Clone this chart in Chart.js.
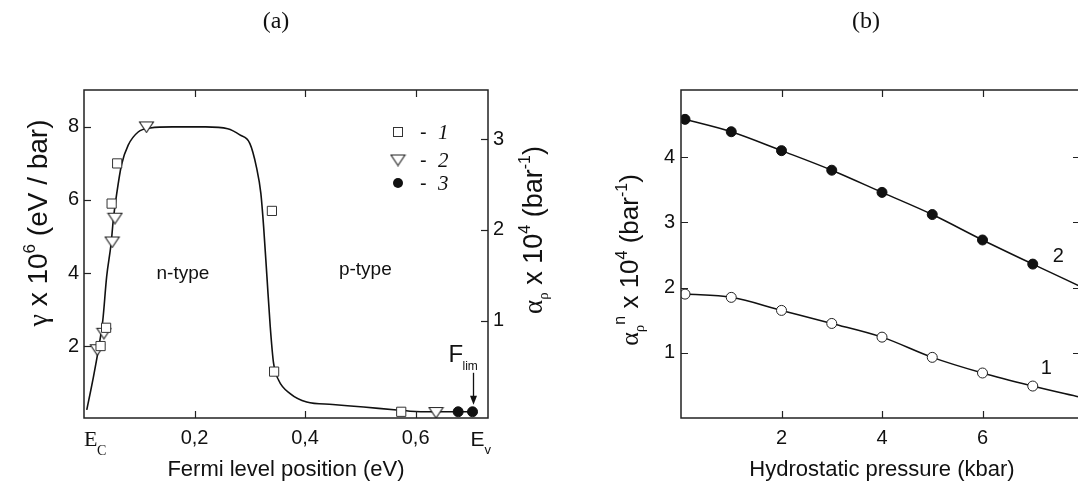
<!DOCTYPE html>
<html>
<head>
<meta charset="utf-8">
<script src="https://cdn.jsdelivr.net/npm/chart.js@4.4.1/dist/chart.umd.min.js"></script>
<style>
html, body { margin: 0; padding: 0; background: #fff; overflow: hidden; width: 1078px; height: 486px; }
canvas { position: absolute; top: 0; }
</style>
</head>
<body>
<canvas id="chartA" width="560" height="486" style="left:0;width:560px;height:486px"></canvas>
<canvas id="chartB" width="540" height="486" style="left:560px;width:540px;height:486px"></canvas>
<script>
// ---- panel (a): gamma vs Fermi level position ----
var fermiTicks = [0.2, 0.4, 0.6];
var gammaTicks = [2, 4, 6, 8];
var alphaTicks = [1, 2, 3];

var set1X = [0.030, 0.040, 0.050, 0.060, 0.340, 0.344, 0.574];
var set1Y = [2.0, 2.5, 5.9, 7.0, 5.7, 1.3, 0.2];
var set2X = [0.024, 0.036, 0.051, 0.056, 0.113, 0.637];
var set2Y = [1.9, 2.35, 4.85, 5.5, 8.0, 0.18];
var set3X = [0.677, 0.703];
var set3Y = [0.2, 0.2];

// fitted curve
var curveX = [0.005, 0.017, 0.026, 0.034, 0.041, 0.049, 0.053, 0.059, 0.068, 0.080, 0.098, 0.120, 0.160, 0.220, 0.260, 0.282, 0.300, 0.312, 0.320, 0.325, 0.331, 0.337, 0.343, 0.352, 0.373, 0.403, 0.450, 0.506, 0.566, 0.600, 0.650, 0.703];
var curveY = [0.25, 1.15, 1.9, 2.7, 3.9, 4.8, 5.45, 6.15, 6.97, 7.5, 7.86, 7.97, 8.0, 8.0, 7.95, 7.78, 7.55, 6.9, 6.18, 5.27, 3.9, 2.53, 1.53, 1.07, 0.70, 0.47, 0.40, 0.33, 0.25, 0.21, 0.2, 0.2];

// ---- panel (b): alpha vs hydrostatic pressure ----
var pressTicks = [2, 4, 6];
var alphaBTicks = [1, 2, 3, 4];
var pressX = [0.08, 1, 2, 3, 4, 5, 6, 7];
var alpha2 = [4.58, 4.39, 4.10, 3.80, 3.46, 3.12, 2.73, 2.36];
var alpha1 = [1.90, 1.85, 1.65, 1.45, 1.24, 0.93, 0.69, 0.49];
var fitPressX = [0.08, 1, 2, 3, 4, 5, 6, 7, 7.94];
var fit2 = [4.58, 4.39, 4.10, 3.80, 3.46, 3.12, 2.73, 2.36, 2.02];
var fit1 = [1.90, 1.85, 1.65, 1.45, 1.24, 0.93, 0.69, 0.49, 0.32];

var SANS = '"Liberation Sans", Arial, sans-serif';
var SERIF = '"Liberation Serif", "Times New Roman", serif';
var INK = '#111';

function pts(xs, ys) {
    return xs.map(function (x, i) { return { x: x, y: ys[i] }; });
}

// open down-pointing triangle used as point style
function makeTriangle() {
    var c = document.createElement('canvas');
    c.width = 17; c.height = 13;
    var g = c.getContext('2d');
    g.fillStyle = '#fff';
    g.strokeStyle = '#222';
    g.lineWidth = 1.1;
    g.beginPath();
    g.moveTo(1.5, 1.5); g.lineTo(15.5, 1.5); g.lineTo(8.5, 12); g.closePath();
    g.fill(); g.stroke();
    return c;
}
var triImg = makeTriangle();

function fontOf(p) {
    return (p.style || '') + ' ' + p.size + 'px ' + (p.family || SANS);
}

// draw text pieces (with sub/superscripts) centred on x, baseline y
function richText(ctx, parts, x, y, angle) {
    ctx.save();
    ctx.translate(x, y);
    ctx.rotate(angle || 0);
    ctx.textAlign = 'left';
    ctx.textBaseline = 'alphabetic';
    ctx.fillStyle = INK;
    var w = 0;
    parts.forEach(function (p) {
        ctx.font = fontOf(p);
        p.w = ctx.measureText(p.t).width;
        w += p.w;
    });
    var cx = -w / 2;
    parts.forEach(function (p) {
        ctx.font = fontOf(p);
        ctx.fillText(p.t, cx, p.dy || 0);
        cx += p.w;
    });
    ctx.restore();
}

function drawFrame(chart, marks) {
    var ctx = chart.ctx, a = chart.chartArea, len = 7;
    ctx.save();
    ctx.strokeStyle = '#222';
    ctx.lineWidth = 1.5;
    ctx.strokeRect(a.left, a.top, a.right - a.left, a.bottom - a.top);
    ctx.lineWidth = 1.2;
    marks.forEach(function (m) {
        var s = chart.scales[m.id];
        s.ticks.forEach(function (t) {
            var p = Math.round(s.getPixelForValue(t.value)) + 0.5;
            ctx.beginPath();
            m.sides.forEach(function (side) {
                if (side === 'bottom') { ctx.moveTo(p, a.bottom); ctx.lineTo(p, a.bottom - len); }
                if (side === 'top') { ctx.moveTo(p, a.top); ctx.lineTo(p, a.top + len); }
                if (side === 'left') { ctx.moveTo(a.left, p); ctx.lineTo(a.left + len, p); }
                if (side === 'right') { ctx.moveTo(a.right, p); ctx.lineTo(a.right - len, p); }
            });
            ctx.stroke();
        });
    });
    ctx.restore();
}

function fixedTicks(list) {
    return function (scale) {
        scale.ticks = list.map(function (v) { return { value: v }; });
    };
}

function tickFont() {
    return { family: SANS, size: 20 };
}

// ---------- chart (a) ----------
var plugA = {
    id: 'panelA',
    afterDraw: function (chart) {
        var ctx = chart.ctx, a = chart.chartArea;
        var xs = chart.scales.x, ys = chart.scales.y;
        drawFrame(chart, [
            { id: 'x', sides: ['bottom', 'top'] },
            { id: 'y', sides: ['left'] },
            { id: 'y2', sides: ['right'] }
        ]);

        // band edge labels
        ctx.save();
        ctx.fillStyle = INK;
        ctx.textBaseline = 'alphabetic';
        ctx.textAlign = 'left';
        ctx.font = '22px ' + SERIF;
        var ec = xs.getPixelForValue(0);
        ctx.fillText('E', ec, 446);
        ctx.font = '14px ' + SERIF;
        ctx.fillText('C', ec + 13, 455);
        var ev = xs.getPixelForValue(0.714);
        ctx.font = '21px ' + SANS;
        ctx.fillText('E', ev - 8, 446);
        ctx.font = '13px ' + SANS;
        ctx.fillText('v', ev + 6, 454);

        // region labels
        ctx.textAlign = 'center';
        ctx.textBaseline = 'middle';
        ctx.font = '19px ' + SANS;
        ctx.fillText('n-type', xs.getPixelForValue(0.179), ys.getPixelForValue(3.97));
        ctx.fillText('p-type', xs.getPixelForValue(0.509), ys.getPixelForValue(4.08));

        // F_lim with arrow to last point
        var fx = Math.round(xs.getPixelForValue(set3X[1])) + 0.5;
        var fy = ys.getPixelForValue(set3Y[1]);
        ctx.textAlign = 'left';
        ctx.textBaseline = 'alphabetic';
        ctx.font = '24px ' + SANS;
        ctx.fillText('F', fx - 25, fy - 50);
        ctx.font = '12px ' + SANS;
        ctx.fillText('lim', fx - 11, fy - 42);
        ctx.strokeStyle = INK;
        ctx.lineWidth = 1.3;
        ctx.beginPath();
        ctx.moveTo(fx, fy - 39);
        ctx.lineTo(fx, fy - 12);
        ctx.stroke();
        ctx.beginPath();
        ctx.moveTo(fx, fy - 7);
        ctx.lineTo(fx - 3.5, fy - 16);
        ctx.lineTo(fx + 3.5, fy - 16);
        ctx.closePath();
        ctx.fill();

        // legend
        var lx = a.left + 314, rows = [a.top + 42, a.top + 70, a.top + 93];
        ctx.strokeStyle = '#333';
        ctx.lineWidth = 1;
        ctx.fillStyle = '#fff';
        ctx.fillRect(lx - 4.5, rows[0] - 4.5, 9, 9);
        ctx.strokeRect(lx - 4.5, rows[0] - 4.5, 9, 9);
        ctx.drawImage(triImg, lx - 8.5, rows[1] - 6.5);
        ctx.fillStyle = INK;
        ctx.beginPath();
        ctx.arc(lx, rows[2], 5, 0, Math.PI * 2);
        ctx.fill();
        ['1', '2', '3'].forEach(function (n, i) {
            ctx.font = '20px ' + SANS;
            ctx.fillText('-', lx + 22, rows[i] + 7);
            ctx.font = 'italic 21px ' + SERIF;
            ctx.fillText(n, lx + 40, rows[i] + 7);
        });

        // chart title
        ctx.textAlign = 'center';
        ctx.font = '24px ' + SERIF;
        ctx.fillText('(a)', 276, 28);
        ctx.restore();

        // axis titles
        richText(ctx, [{ t: 'Fermi level position (eV)', size: 22 }], (a.left + a.right) / 2, 476, 0);
        richText(ctx, [
            { t: 'γ', size: 28, family: SERIF },
            { t: ' x 10', size: 28 },
            { t: '6', size: 17, dy: -12 },
            { t: ' (eV / bar)', size: 28 }
        ], 47, 223, -Math.PI / 2);
        richText(ctx, [
            { t: 'α', size: 27, family: SERIF },
            { t: 'ρ', size: 15, family: SERIF, dy: 6 },
            { t: ' x 10', size: 27 },
            { t: '4', size: 16, dy: -12 },
            { t: ' (bar', size: 27 },
            { t: '-1', size: 16, dy: -12 },
            { t: ')', size: 27 }
        ], 542, 230, -Math.PI / 2);
    }
};

new Chart(document.getElementById('chartA'), {
    type: 'line',
    data: {
        datasets: [
            {
                data: pts(curveX, curveY), borderColor: INK, borderWidth: 1.6,
                pointRadius: 0, cubicInterpolationMode: 'monotone', order: 3
            },
            {
                data: pts(set1X, set1Y), showLine: false, pointStyle: 'rect', pointRadius: 6.5,
                backgroundColor: '#fff', borderColor: '#333', borderWidth: 1, order: 1
            },
            {
                data: pts(set2X, set2Y), showLine: false, pointStyle: triImg, pointRadius: 7,
                order: 1
            },
            {
                data: pts(set3X, set3Y), showLine: false, pointStyle: 'circle', pointRadius: 5,
                backgroundColor: INK, borderColor: INK, borderWidth: 1, order: 1
            }
        ]
    },
    options: {
        responsive: false,
        animation: false,
        devicePixelRatio: 1,
        layout: { padding: { top: 90, left: 0, right: 0, bottom: 0 } },
        plugins: { legend: { display: false }, tooltip: { enabled: false } },
        scales: {
            x: {
                type: 'linear', min: 0, max: 0.731,
                grid: { display: false, drawTicks: false }, border: { display: false },
                afterBuildTicks: fixedTicks(fermiTicks),
                afterFit: function (s) { s.height = 68; },
                ticks: {
                    font: tickFont(), color: INK, padding: 8, maxRotation: 0,
                    callback: function (v) { return v.toFixed(1).replace('.', ','); }
                }
            },
            y: {
                position: 'left', min: 0.03, max: 9.01,
                grid: { display: false, drawTicks: false }, border: { display: false },
                afterBuildTicks: fixedTicks(gammaTicks),
                afterFit: function (s) { s.width = 84; },
                ticks: { font: tickFont(), color: INK, padding: 5 }
            },
            y2: {
                position: 'right', min: -0.07, max: 3.54,
                grid: { display: false, drawTicks: false }, border: { display: false },
                afterBuildTicks: fixedTicks(alphaTicks),
                afterFit: function (s) { s.width = 72; },
                ticks: { font: tickFont(), color: INK, padding: 5 }
            }
        }
    },
    plugins: [plugA]
});

// ---------- chart (b) ----------
var plugB = {
    id: 'panelB',
    afterDraw: function (chart) {
        var ctx = chart.ctx, a = chart.chartArea;
        var xs = chart.scales.x, ys = chart.scales.y;
        drawFrame(chart, [
            { id: 'x', sides: ['bottom', 'top'] },
            { id: 'y', sides: ['left', 'right'] }
        ]);
        ctx.save();
        ctx.fillStyle = INK;
        ctx.textAlign = 'center';
        ctx.textBaseline = 'middle';
        ctx.font = '20px ' + SANS;
        ctx.fillText('2', xs.getPixelForValue(7.51), ys.getPixelForValue(2.47));
        ctx.fillText('1', xs.getPixelForValue(7.27), ys.getPixelForValue(0.755));
        ctx.textBaseline = 'alphabetic';
        ctx.font = '24px ' + SERIF;
        ctx.fillText('(b)', 306, 28);
        ctx.restore();

        richText(ctx, [{ t: 'Hydrostatic pressure (kbar)', size: 22 }], 322, 476, 0);
        richText(ctx, [
            { t: 'α', size: 26, family: SERIF },
            { t: 'ρ', size: 15, family: SERIF, dy: 6 },
            { t: 'n', size: 16, dy: -13 },
            { t: ' x 10', size: 26 },
            { t: '4', size: 16, dy: -11 },
            { t: ' (bar', size: 26 },
            { t: '-1', size: 16, dy: -11 },
            { t: ')', size: 26 }
        ], 78, 260, -Math.PI / 2);
    }
};

new Chart(document.getElementById('chartB'), {
    type: 'line',
    data: {
        datasets: [
            {
                data: pts(fitPressX, fit2), borderColor: INK, borderWidth: 1.5,
                pointRadius: 0, cubicInterpolationMode: 'monotone', order: 3
            },
            {
                data: pts(fitPressX, fit1), borderColor: INK, borderWidth: 1.5,
                pointRadius: 0, cubicInterpolationMode: 'monotone', order: 3
            },
            {
                data: pts(pressX, alpha2), showLine: false, pointStyle: 'circle', pointRadius: 5,
                backgroundColor: INK, borderColor: INK, borderWidth: 1, order: 1
            },
            {
                data: pts(pressX, alpha1), showLine: false, pointStyle: 'circle', pointRadius: 5,
                backgroundColor: '#fff', borderColor: '#222', borderWidth: 1, order: 1
            }
        ]
    },
    options: {
        responsive: false,
        animation: false,
        devicePixelRatio: 1,
        layout: { padding: { top: 90, left: 0, right: 20, bottom: 0 } },
        plugins: { legend: { display: false }, tooltip: { enabled: false } },
        scales: {
            x: {
                type: 'linear', min: 0, max: 7.94,
                grid: { display: false, drawTicks: false }, border: { display: false },
                afterBuildTicks: fixedTicks(pressTicks),
                afterFit: function (s) { s.height = 68; },
                ticks: { font: tickFont(), color: INK, padding: 8, maxRotation: 0 }
            },
            y: {
                position: 'left', min: 0, max: 5.03,
                grid: { display: false, drawTicks: false }, border: { display: false },
                afterBuildTicks: fixedTicks(alphaBTicks),
                afterFit: function (s) { s.width = 121; },
                ticks: { font: tickFont(), color: INK, padding: 6 }
            }
        }
    },
    plugins: [plugB]
});
</script>
</body>
</html>
